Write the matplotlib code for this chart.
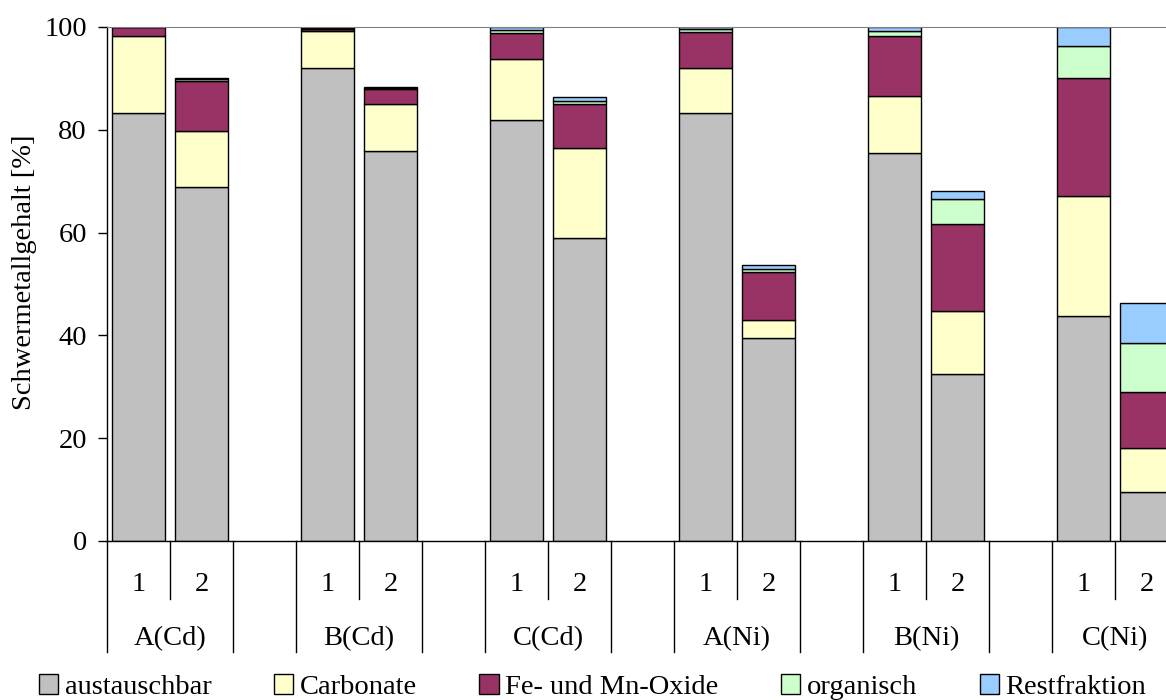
import numpy as np
import matplotlib.pyplot as plt
from matplotlib.patches import Patch
from matplotlib.transforms import blended_transform_factory

plt.rcParams['font.family'] = ['Liberation Serif', 'DejaVu Serif']

# groups and sub-samples
groups = ['A(Cd)', 'B(Cd)', 'C(Cd)', 'A(Ni)', 'B(Ni)', 'C(Ni)']
samples = ['1', '2']

# fractions [%], order: A(Cd)1, A(Cd)2, B(Cd)1, B(Cd)2, ...
austauschbar = [83.2, 68.9, 92.1, 75.9, 82.0, 58.9, 83.2, 39.5, 75.5, 32.4, 43.8, 9.6]
carbonate    = [15.0, 10.9, 7.1, 9.2, 11.8, 17.6, 8.9, 3.4, 11.1, 12.3, 23.4, 8.5]
fe_mn_oxide  = [1.8, 9.7, 0.4, 2.8, 5.0, 8.5, 7.0, 9.4, 11.7, 17.0, 22.9, 10.9]
organisch    = [0.0, 0.3, 0.2, 0.2, 0.6, 0.7, 0.5, 0.6, 1.0, 4.8, 6.3, 9.6]
restfraktion = [0.0, 0.3, 0.2, 0.2, 0.6, 0.6, 0.4, 0.7, 0.7, 1.6, 3.6, 7.7]

series = [
    ('austauschbar', austauschbar, '#C0C0C0'),
    ('Carbonate', carbonate, '#FFFFCC'),
    ('Fe- und Mn-Oxide', fe_mn_oxide, '#993366'),
    ('organisch', organisch, '#CCFFCC'),
    ('Restfraktion', restfraktion, '#99CCFF'),
]

FS = 20.5

fig = plt.figure(figsize=(11.66, 7.0), dpi=100)
# axes run a bit past the right figure edge, like the cropped original
ax = fig.add_axes([107/1166, 159/700, 1071/1166, 514/700])

# bar positions: 3 slots per group (two bars + one empty slot)
xpos = np.array([3*g + j + 0.5 for g in range(len(groups)) for j in range(len(samples))])

bottom = np.zeros(len(xpos))
for name, vals, col in series:
    vals = np.array(vals)
    ax.bar(xpos, vals, width=0.83, bottom=bottom, color=col,
           edgecolor='black', linewidth=1.0, label=name)
    bottom += vals

ax.set_xlim(0, 17)
ax.set_ylim(0, 100)
ax.set_yticks(np.arange(0, 101, 20))
ax.tick_params(axis='y', direction='out', length=6.5, width=1, labelsize=FS, pad=8)
ax.set_xticks([])

ax.spines['right'].set_visible(False)
ax.spines['top'].set_color('#808080')
ax.spines['left'].set_linewidth(1.0)
ax.spines['bottom'].set_linewidth(1.0)

# multi-level category axis
tr = blended_transform_factory(ax.transData, ax.transAxes)
for g in range(len(groups)):
    for x0, depth in [(3*g, -0.216), (3*g + 1, -0.113), (3*g + 2, -0.216)]:
        ax.plot([x0, x0], [0, depth], color='black', lw=1.0, transform=tr, clip_on=False)
    for j, s in enumerate(samples):
        ax.text(3*g + j + 0.5, -0.084, s, transform=tr, ha='center', va='center', fontsize=FS)
    ax.text(3*g + 1, -0.19, groups[g], transform=tr, ha='center', va='center', fontsize=FS)

fig.text(25/1166, 1 - 272/700, 'Schwermetallgehalt [%]', rotation=90,
         ha='center', va='center', fontsize=FS)

handles = [Patch(facecolor=c, edgecolor='black', linewidth=1.0, label=n) for n, _, c in series]
fig.legend(handles=handles, loc='center left', bbox_to_anchor=(39/1166, 1 - 687/700),
           ncol=5, frameon=False, fontsize=FS, handlelength=0.68, handleheight=0.68,
           handletextpad=0.22, columnspacing=2.2, borderpad=0, borderaxespad=0)

fig.savefig('out.png', dpi=100)
